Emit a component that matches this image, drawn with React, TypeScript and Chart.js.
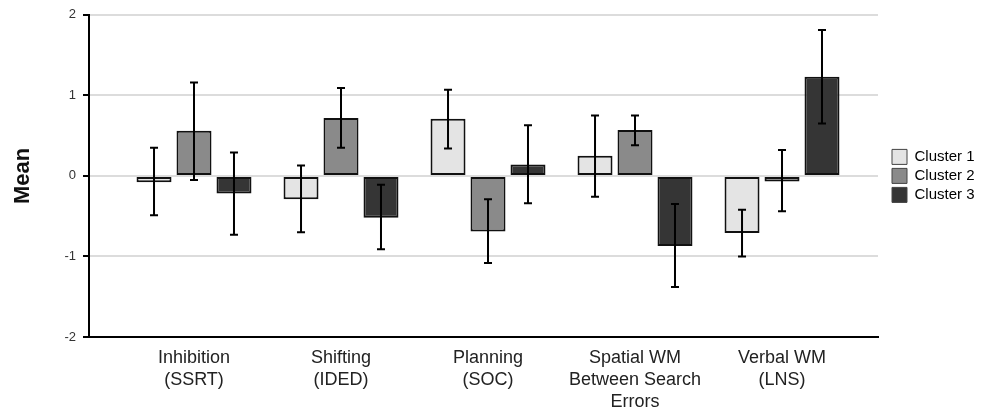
import React, { useEffect, useRef } from "react";
import { Chart, registerables } from "chart.js";

Chart.register(...registerables);

const categories: string[][] = [
  ["Inhibition", "(SSRT)"],
  ["Shifting", "(IDED)"],
  ["Planning", "(SOC)"],
  ["Spatial WM", "Between Search", "Errors"],
  ["Verbal WM", "(LNS)"],
];
const seriesNames = ["Cluster 1", "Cluster 2", "Cluster 3"];
const cluster1 = [-0.08, -0.29, 0.71, 0.25, -0.71];
const cluster2 = [0.56, 0.72, -0.69, 0.57, -0.07];
const cluster3 = [-0.22, -0.52, 0.14, -0.87, 1.23];
const cluster1Upper = [0.35, 0.13, 1.07, 0.75, -0.42];
const cluster1Lower = [-0.49, -0.7, 0.34, -0.26, -1.0];
const cluster2Upper = [1.16, 1.09, -0.29, 0.75, 0.32];
const cluster2Lower = [-0.05, 0.35, -1.08, 0.38, -0.44];
const cluster3Upper = [0.29, -0.11, 0.63, -0.35, 1.81];
const cluster3Lower = [-0.73, -0.91, -0.34, -1.38, 0.65];
const yTicks = [-2, -1, 0, 1, 2];

const values = [cluster1, cluster2, cluster3];
const uppers = [cluster1Upper, cluster2Upper, cluster3Upper];
const lowers = [cluster1Lower, cluster2Lower, cluster3Lower];
const fills = ["#e4e4e4", "#8a8a8a", "#353535"];

const errorBars = {
  id: "errorBars",
  afterDatasetsDraw(chart: any) {
    const ctx = chart.ctx;
    const yScale = chart.scales.y;
    ctx.save();
    ctx.strokeStyle = "#000";
    ctx.lineWidth = 2;
    chart.data.datasets.forEach((_: any, i: number) => {
      const meta = chart.getDatasetMeta(i);
      meta.data.forEach((el: any, j: number) => {
        const x = el.x;
        const yt = yScale.getPixelForValue(uppers[i][j]);
        const yb = yScale.getPixelForValue(lowers[i][j]);
        ctx.beginPath();
        ctx.moveTo(x, yt);
        ctx.lineTo(x, yb);
        ctx.moveTo(x - 4, yt);
        ctx.lineTo(x + 4, yt);
        ctx.moveTo(x - 4, yb);
        ctx.lineTo(x + 4, yb);
        ctx.stroke();
      });
    });
    ctx.restore();
  },
};

const legendFix = {
  id: "legendFix",
  beforeLayout(chart: any) {
    const lg = chart.legend;
    if (lg && !lg._fixed) {
      const orig = lg.fit.bind(lg);
      lg.fit = function () {
        orig();
        this.width = 106;
      };
      lg._fixed = true;
    }
  },
  afterLayout(chart: any) {
    const lg = chart.legend;
    if (lg) {
      lg.left += 10;
      lg.right += 10;
    }
  },
};

export default function App() {
  const ref = useRef<HTMLCanvasElement | null>(null);
  useEffect(() => {
    if (!ref.current) return;
    Chart.defaults.font.family = "'Liberation Sans', Arial, sans-serif";
    const chart = new Chart(ref.current, {
      type: "bar",
      data: {
        datasets: seriesNames.map((name, i) => ({
          label: name,
          data: values[i].map((v, j) => ({ x: j, y: v })),
          backgroundColor: fills[i],
          borderColor: "#111",
          borderWidth: 2,
          borderSkipped: false,
          categoryPercentage: 0.816,
          barPercentage: 0.875,
        })),
      },
      options: {
        animation: false,
        responsive: false,
        layout: { padding: { top: 13, right: 0, bottom: 0, left: 0 } },
        plugins: {
          tooltip: { enabled: false },
          legend: {
            position: "right",
            fullSize: false,
            labels: {
              boxWidth: 15,
              boxHeight: 15,
              padding: 4,
              color: "#333",
              font: { size: 15 },
              generateLabels: (c: any) =>
                c.data.datasets.map((d: any, i: number) => ({
                  text: d.label,
                  fillStyle: fills[i],
                  strokeStyle: "#444",
                  lineWidth: 1,
                  datasetIndex: i,
                  hidden: false,
                })),
            },
          },
        },
        scales: {
          x: {
            type: "linear",
            min: -0.7143,
            max: 4.653,
            offset: false,
            grid: { display: false, drawTicks: false },
            border: { display: true, color: "#000", width: 2 },
            afterBuildTicks: (s: any) => {
              s.ticks = categories.map((_, i) => ({ value: i }));
            },
            afterFit: (s: any) => {
              s.height = 77;
            },
            ticks: {
              autoSkip: false,
              maxRotation: 0,
              padding: 10,
              color: "#222",
              font: { size: 18, lineHeight: "22px" },
              callback: (_v: any, i: number) => categories[i],
            },
          },
          y: {
            min: -2,
            max: 2,
            afterBuildTicks: (s: any) => {
              s.ticks = yTicks.map((v) => ({ value: v }));
            },
            afterFit: (s: any) => {
              s.width = 89;
            },
            grid: {
              color: (c: any) => (c.tick && c.tick.value === -2 ? "#000" : "#dcdcdc"),
              lineWidth: 2,
              drawTicks: true,
              tickLength: 6,
              tickColor: "#000",
              tickWidth: 2,
            },
            border: { display: true, color: "#000", width: 2 },
            ticks: {
              padding: 7,
              color: "#333",
              font: { size: 13 },
              callback: (v: any) => String(v),
            },
            title: {
              display: true,
              text: "Mean",
              color: "#111",
              font: { size: 22, weight: "bold" },
              padding: { top: 10, bottom: 0 },
            },
          },
        },
      },
      plugins: [errorBars, legendFix],
    } as any);
    return () => chart.destroy();
  }, []);
  return (
    <div style={{ position: "fixed", left: 0, top: 0, width: 984, height: 414, background: "#fff" }}>
      <canvas ref={ref} width={984} height={414} />
    </div>
  );
}
